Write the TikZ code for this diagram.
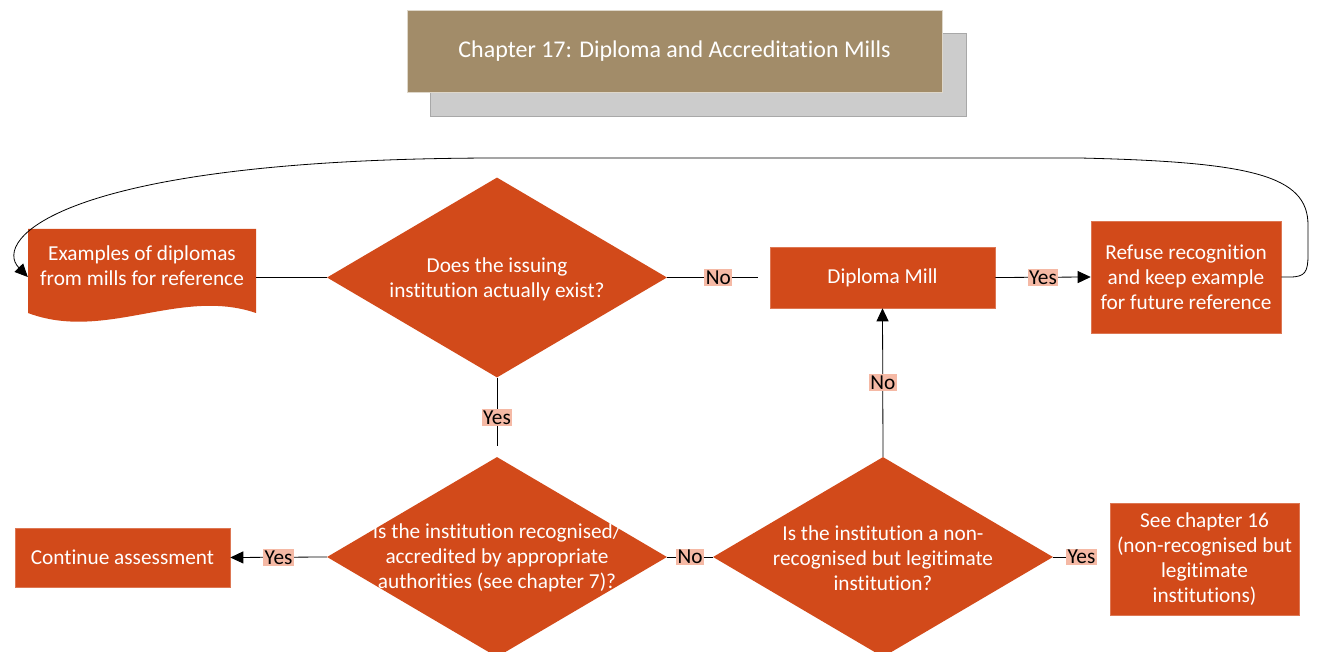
\documentclass[tikz,border=0pt]{standalone}
\usepackage{fontspec}
\setmainfont{Carlito}[Ligatures=NoCommon, RawFeature=-liga, RawFeature=-calt, RawFeature=-dlig, RawFeature=-clig]
\usetikzlibrary{arrows.meta,shapes.geometric}
\definecolor{mill}{HTML}{D24A1A}
\definecolor{lab}{HTML}{F5B9A5}
\definecolor{gold}{HTML}{A28C69}
\definecolor{shadowgray}{HTML}{CCCCCC}
\definecolor{shadowedge}{HTML}{A8A8A8}
\newcommand\myfs{\fontsize{21.3}{25}\selectfont}
\newcommand\mytitlefs{\fontsize{24}{28}\selectfont}
\begin{document}
\begin{tikzpicture}[x=1pt,y=-1pt,
  box/.style={rectangle, fill=mill, draw=mill!75!white, line width=0.6pt, text=white, font=\myfs, align=center, inner sep=0pt},
  dia/.style={diamond, fill=mill, inner sep=0pt, minimum width=340pt, minimum height=200pt},
  dtext/.style={text=white, font=\myfs, align=center, inner sep=0pt},
  lbl/.style={fill=lab, text=black, inner sep=1.5pt, font=\myfs},
  conn/.style={line width=0.8pt, black},
  arr/.style={conn, -{Triangle[length=13pt,width=12pt]}}]
\useasboundingbox (0,0) rectangle (1317,652);

% title
\node[rectangle, fill=shadowgray, draw=shadowedge, line width=0.8pt, minimum width=536pt, minimum height=83pt] (shadow) at (698,74.5) {};
\node[rectangle, fill=gold, draw=gold!35!white, line width=0.8pt, minimum width=535pt, minimum height=82pt, text=white, font=\mytitlefs] (title) at (674.5,51) {Chapter 17: Diploma and Accreditation Mills};

% document shape
\fill[mill] (28,229) -- (256,229) -- (256,313) .. controls (180,287) and (105,342) .. (28,313) -- cycle;
\node[inner sep=0pt, minimum width=228pt, minimum height=84pt] (docb) at (142,271) {};
\node[dtext] (doct) at (142,266) {Examples of diplomas\\from mills for reference};

% boxes
\node[box, minimum width=225pt, minimum height=61pt] (mill) at (882.5,277.5) {Diploma Mill};
\node[box, minimum width=190pt, minimum height=112pt] (refuse) at (1186,277) {Refuse recognition\\and keep example\\for future reference};
\node[box, minimum width=215pt, minimum height=59pt] (cont) at (122.5,557.5) {Continue assessment};
\node[box, minimum width=189pt, minimum height=112pt] (ch16) at (1204.5,559) {See chapter 16\\(non-recognised but\\legitimate\\institutions)};

% diamonds
\node[dia] (d1) at (497,277.5) {};
\node[dtext] (d1t) at (497,279) {Does the issuing\\institution actually exist?};
\node[dia] (d2) at (497,557) {};
\node[dtext] (d2t) at (497,558) {Is the institution recognised/\\accredited by appropriate\\authorities (see chapter 7)?};
\node[dia] (d3) at (883,557) {};
\node[dtext] (d3t) at (883,558) {Is the institution a non-\\recognised but legitimate\\institution?};

% connectors
\draw[conn] (docb.east |- d1.west) -- (d1.west);
\draw[conn, shorten >=12pt] (d1.east) -- node[lbl]{No} (mill.west);
\draw[arr] (mill.east) -- node[lbl]{Yes} (refuse.west);
\draw[conn, shorten >=11pt] (d1.south) -- node[lbl]{Yes} (d2.north);
\draw[arr] (d2.west) -- node[lbl]{Yes} (cont.east);
\draw[conn] (d2.east) -- node[lbl]{No} (d3.west);
\draw[arr] (d3.north) -- node[lbl]{No} (mill.south);
\draw[conn, shorten >=13pt] (d3.east) -- node[lbl]{Yes} (d3.east -| ch16.west);

% loop back
\draw[arr] (refuse.east) -- (1290,277) .. controls (1305,277) and (1308,272) .. (1308,255) -- (1308,225) .. controls (1308,175) and (1250,162) .. (1080,158) -- (500,158) .. controls (60,158) and (-8,240) .. (docb.west |- refuse.east);
\end{tikzpicture}
\end{document}
